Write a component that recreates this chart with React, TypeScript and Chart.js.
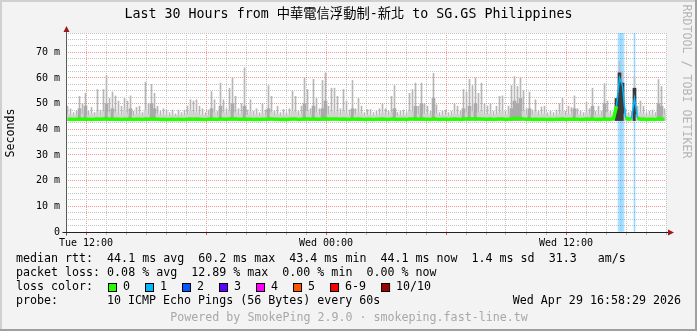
import React, { useEffect, useRef } from 'react';
import { Chart, registerables } from 'chart.js';

Chart.register(...registerables);

const TITLE = 'Last 30 Hours from 中華電信浮動制-新北 to SG.GS Philippines';
const HOURS = 30;
const BIN_HOURS = 0.15;
const Y_MAX = 77.5;
const SMOKE_FLOOR = 43.4;

const xTickHours = [1, 13, 25];
const xTickLabels = ['Tue 12:00', 'Wed 00:00', 'Wed 12:00'];

// highest ping of each 9-minute bin (ms)
const smokeMax = [
  49, 48, 46.5, 47, 52.8, 50, 54, 47, 48.5, 46.5,
  55.5, 47.5, 55.5, 61, 52, 54.5, 53, 51, 49, 52,
  51, 53, 47, 48.5, 49, 46.5, 58.3, 50, 57.5, 54,
  49, 47, 48, 47.5, 46.5, 47.5, 46, 47.5, 46.5, 47.5,
  49, 51.5, 51, 51.5, 49, 48, 46.5, 47.5, 54.7, 51.5,
  47, 58, 51.5, 48, 56, 60, 52.8, 48, 50, 64,
  47.5, 51.5, 47, 48, 46.5, 50, 47.5, 57, 52.8, 47,
  49, 46.5, 47.7, 46.5, 48, 54.8, 52.8, 47, 49, 60,
  55.5, 48, 59.5, 52, 48, 59, 62, 49, 56, 56,
  52.8, 48, 55.5, 51, 47.5, 59, 48, 52, 49, 46.5,
  47.7, 47.7, 46.5, 47, 48, 50, 48, 47, 52.8, 57,
  46.5, 47, 47.5, 46.5, 54, 55.5, 58, 49, 58, 50,
  49, 47, 61.8, 49.5, 46.5, 47, 47.5, 46.5, 47, 50,
  49, 47, 55.5, 54.5, 59.5, 57, 60, 54, 58, 50,
  49, 50, 47, 49, 52.8, 53, 47, 49, 57, 60.5,
  56.7, 60, 55, 48, 54.5, 47.5, 51.5, 47, 48.7, 49,
  46.5, 47, 46.5, 47.5, 50, 52, 47, 49, 48.5, 53,
  48, 47, 46.5, 50.5, 48, 56, 47, 49, 47, 57.8,
  51, 47, 46.5, 50, 66.5, 62, 48, 46.5, 47, 60.6,
  49, 51, 49, 46.5, 47, 47.5, 46.5, 59.4, 56.7, 48,
];

// upper edge of the dense part of the smoke
const smokeMid = [
  45.8, 45.5, 45.2, 45.5, 48, 46, 49, 45.3, 46, 45.2,
  46.5, 45.4, 46.8, 50, 46.5, 48, 46.5, 46, 45.5, 47.5,
  46, 48, 45.3, 45.8, 46, 45.2, 47.5, 45.8, 50, 48,
  46, 45.4, 45.6, 45.3, 45.2, 45.4, 45.2, 45.5, 45.2, 45.4,
  45.8, 47, 46.2, 46.5, 45.6, 45.5, 45.2, 45.4, 48, 46.5,
  45.4, 49, 46.5, 45.6, 47, 50, 46.5, 45.5, 46, 49,
  45.4, 46.5, 45.3, 45.6, 45.2, 46, 45.4, 48, 46.5, 45.3,
  45.8, 45.2, 45.5, 45.2, 45.6, 47, 46.5, 45.3, 45.8, 50,
  47, 45.6, 49, 46.5, 45.6, 48, 51, 45.8, 47, 46.5,
  46.5, 45.5, 47, 46, 45.4, 48, 45.6, 46.5, 45.8, 45.2,
  45.5, 45.5, 45.2, 45.4, 45.6, 46.2, 45.6, 45.4, 46.5, 48,
  45.2, 45.4, 45.4, 45.2, 47, 46.5, 49, 45.8, 50, 46,
  45.8, 45.4, 52, 46, 45.2, 45.4, 45.5, 45.2, 45.4, 46,
  45.8, 45.4, 48, 46.5, 49, 47, 50, 46.5, 47, 46,
  45.8, 46, 45.4, 45.8, 46.5, 47, 45.4, 45.8, 48, 51,
  50, 52, 47, 45.6, 48, 45.5, 46.5, 45.4, 45.8, 46,
  45.2, 45.4, 45.2, 45.5, 46, 47, 45.4, 45.8, 45.6, 48,
  45.6, 45.4, 45.2, 46.5, 45.6, 49, 45.4, 45.8, 45.4, 50,
  46.5, 45.4, 45.2, 52, 62, 58, 46, 45.2, 45.4, 56,
  45.8, 46.5, 45.8, 45.2, 45.4, 45.5, 45.2, 50, 49, 45.6,
];

// median rtt per bin (ms)
const median = [
  43.9, 43.9, 43.8, 43.9, 44.0, 43.9, 44.0, 43.9, 43.8, 43.9,
  44.0, 43.9, 44.0, 44.1, 43.9, 44.0, 43.9, 43.9, 43.8, 43.9,
  43.9, 44.0, 43.8, 43.9, 43.9, 43.8, 44.0, 43.9, 44.1, 44.0,
  43.9, 43.8, 43.9, 43.8, 43.8, 43.9, 43.8, 43.9, 43.8, 43.8,
  43.9, 44.0, 43.9, 44.0, 43.9, 43.8, 43.8, 43.9, 44.0, 43.9,
  43.8, 44.1, 43.9, 43.9, 44.0, 44.1, 44.0, 43.9, 43.9, 44.0,
  43.9, 43.9, 43.8, 43.9, 43.8, 43.9, 43.9, 44.0, 44.0, 43.9,
  43.9, 43.8, 43.9, 43.8, 43.9, 44.0, 44.0, 43.8, 43.9, 44.1,
  44.0, 43.9, 44.1, 43.9, 43.9, 44.0, 44.2, 43.9, 44.0, 44.0,
  44.0, 43.9, 44.0, 43.9, 43.8, 44.1, 43.9, 44.0, 43.9, 43.8,
  43.9, 43.9, 43.8, 43.9, 43.9, 44.0, 43.9, 43.8, 44.0, 44.0,
  43.8, 43.9, 43.9, 43.8, 44.0, 44.0, 44.1, 43.9, 44.1, 43.9,
  43.9, 43.8, 44.2, 43.9, 43.8, 43.9, 43.9, 43.8, 43.9, 44.0,
  43.9, 43.8, 44.0, 44.0, 44.1, 44.0, 44.1, 44.0, 44.0, 43.9,
  43.9, 44.0, 43.8, 43.9, 44.0, 44.0, 43.8, 43.9, 44.0, 44.1,
  44.1, 44.2, 44.0, 43.9, 44.0, 43.8, 43.9, 43.8, 43.9, 43.9,
  43.8, 43.9, 43.8, 43.9, 43.9, 44.0, 43.8, 43.9, 43.9, 44.0,
  43.9, 43.8, 43.8, 44.0, 43.9, 44.1, 43.8, 43.9, 43.8, 44.1,
  43.9, 43.9, 44.2, 49.0, 60.0, 57.0, 44.5, 43.9, 44.2, 52.0,
  44.3, 43.9, 44.0, 43.8, 43.9, 43.9, 43.8, 44.1, 44.0, 43.9,
];

// bins where packets were lost (1 of 10)
const lossWideBins = [184, 185];
const lossThinBins = [189];
const lossMedianBins = [184, 185, 189];
const darkSmokeBins = [183, 184, 185, 189];

const rttLine = 'median rtt:  44.1 ms avg  60.2 ms max  43.4 ms min  44.1 ms now  1.4 ms sd  31.3   am/s';
const lossLine = 'packet loss: 0.08 % avg  12.89 % max  0.00 % min  0.00 % now';
const lossColorLabels = ['0', '1', '2', '3', '4', '5', '6-9', '10/10'];
const lossColors = ['#26ff00', '#00b8ff', '#0059ff', '#5e00ff', '#ff00ff', '#ff5500', '#ff0000', '#a10000'];
const probeText = '10 ICMP Echo Pings (56 Bytes) every 60s';
const dateText = 'Wed Apr 29 16:58:29 2026';
const poweredText = 'Powered by SmokePing 2.9.0 · smokeping.fast-line.tw';

const MONO = '"DejaVu Sans Mono", "Noto Sans CJK TC", monospace';
const MAJOR = 'rgba(225,70,70,0.55)';
const MINOR = '#c4c4c4';

const binX = (i: number) => (i + 0.5) * BIN_HOURS;

const decor = {
  id: 'decor',
  beforeDraw(chart: any) {
    const { ctx, width, height, chartArea: a } = chart;
    ctx.save();
    ctx.fillStyle = '#f3f3f3';
    ctx.fillRect(0, 0, width, height);
    ctx.fillStyle = '#ffffff';
    ctx.fillRect(a.left, a.top, a.right - a.left, a.bottom - a.top);
    ctx.fillStyle = '#d0d0d0';
    ctx.fillRect(0, 0, width, 2);
    ctx.fillRect(0, 0, 2, height);
    ctx.fillStyle = '#a0a0a0';
    ctx.fillRect(0, height - 2, width, 2);
    ctx.fillRect(width - 2, 0, 2, height);
    ctx.restore();
  },
  afterDraw(chart: any) {
    const { ctx, chartArea: a } = chart;
    const xs = chart.scales.x;
    const ys = chart.scales.y;
    const x0 = Math.round(xs.getPixelForValue(0)) + 0.5;
    const y0 = Math.round(ys.getPixelForValue(0)) + 0.5;
    const top = a.top;
    const right = a.right;
    ctx.save();
    ctx.lineWidth = 1;
    ctx.strokeStyle = '#5a5a5a';
    ctx.beginPath();
    ctx.moveTo(x0, y0 + 3);
    ctx.lineTo(x0, top - 4);
    ctx.stroke();
    ctx.strokeStyle = '#222';
    ctx.beginPath();
    ctx.moveTo(x0 - 4, y0);
    ctx.lineTo(right + 3, y0);
    ctx.stroke();
    ctx.fillStyle = '#9a1b1b';
    ctx.beginPath();
    ctx.moveTo(x0, top - 7);
    ctx.lineTo(x0 - 3, top - 1);
    ctx.lineTo(x0 + 3, top - 1);
    ctx.closePath();
    ctx.fill();
    ctx.beginPath();
    ctx.moveTo(right + 8, y0);
    ctx.lineTo(right + 2, y0 - 3);
    ctx.lineTo(right + 2, y0 + 3);
    ctx.closePath();
    ctx.fill();

    ctx.fillStyle = '#000';
    ctx.textBaseline = 'middle';
    ctx.textAlign = 'center';
    ctx.font = `13.3px ${MONO}`;
    ctx.fillText(TITLE, 348.5, 15);

    ctx.font = `11.65px ${MONO}`;
    ctx.save();
    ctx.translate(11, 133);
    ctx.rotate(-Math.PI / 2);
    ctx.fillText('Seconds', 0, 0);
    ctx.restore();
    ctx.save();
    ctx.fillStyle = '#b4b4b4';
    ctx.translate(686, 81.5);
    ctx.rotate(Math.PI / 2);
    ctx.fillText('RRDTOOL / TOBI OETIKER', 0, 0);
    ctx.restore();

    ctx.textAlign = 'left';
    ctx.fillStyle = '#000';
    ctx.fillText(rttLine, 16, 259);
    ctx.fillText(lossLine, 16, 273);
    ctx.fillText('loss color:', 16, 287);
    let bx = 108;
    lossColorLabels.forEach((lab, k) => {
      ctx.fillStyle = lossColors[k];
      ctx.fillRect(bx, 283, 8, 8);
      ctx.strokeStyle = '#000';
      ctx.strokeRect(bx + 0.5, 283.5, 8, 8);
      ctx.fillStyle = '#000';
      ctx.fillText(lab, bx + 15, 287);
      bx += 15 + ctx.measureText(lab).width + 15;
    });
    ctx.fillText('probe:', 16, 301);
    ctx.fillText(probeText, 107, 301);
    ctx.textAlign = 'right';
    ctx.fillText(dateText, 681, 301);
    ctx.textAlign = 'center';
    ctx.fillStyle = '#a8a8a8';
    ctx.fillText(poweredText, 349, 318);
    ctx.restore();
  },
};

export default function App() {
  const ref = useRef<HTMLCanvasElement | null>(null);

  useEffect(() => {
    const canvas = ref.current;
    if (!canvas) return;
    const isLoss = (i: number) => lossMedianBins.includes(i);
    const chart = new Chart(canvas, {
      type: 'bar',
      data: {
        datasets: [
          {
            type: 'bar',
            label: 'loss',
            data: lossWideBins.map((b) => ({ x: binX(b), y: [0, Y_MAX] })) as any,
            backgroundColor: 'rgba(0,160,255,0.32)',
            grouped: false,
            barPercentage: 1,
            categoryPercentage: 1,
            order: 5,
          } as any,
          {
            type: 'bar',
            label: 'loss thin',
            data: lossThinBins.map((b) => ({ x: binX(b), y: [0, Y_MAX] })) as any,
            backgroundColor: 'rgba(0,160,255,0.4)',
            grouped: false,
            barThickness: 1,
            order: 5,
          } as any,
          {
            type: 'bar',
            label: 'smoke band',
            data: smokeMid.map((v, i) => ({ x: binX(i), y: [SMOKE_FLOOR, v] })) as any,
            backgroundColor: (c: any) => {
              if (darkSmokeBins.includes(c.dataIndex)) return '#3a3a3a';
              const v = smokeMid[c.dataIndex];
              return v >= 48 ? '#aaaaaa' : '#d2d2d2';
            },
            grouped: false,
            barPercentage: 1,
            categoryPercentage: 1,
            order: 2,
          } as any,
          {
            type: 'bar',
            label: 'smoke max',
            data: smokeMax.map((v, i) => ({ x: binX(i), y: [SMOKE_FLOOR, v] })) as any,
            backgroundColor: (c: any) => (darkSmokeBins.includes(c.dataIndex) ? '#c0c0c0' : '#b6b6b6'),
            grouped: false,
            barThickness: 1,
            order: 3,
          } as any,
          {
            type: 'line',
            label: 'median rtt',
            data: median.map((v, i) => ({ x: binX(i), y: v })) as any,
            borderColor: lossColors[0],
            borderWidth: 3.5,
            pointRadius: 0,
            tension: 0,
            segment: {
              borderColor: (c: any) => (isLoss(c.p1DataIndex) || isLoss(c.p0DataIndex) ? lossColors[1] : lossColors[0]),
              borderWidth: (c: any) => (isLoss(c.p1DataIndex) || isLoss(c.p0DataIndex) ? 1.5 : 3.5),
            },
            order: 1,
          } as any,
        ],
      },
      options: {
        responsive: false,
        devicePixelRatio: 1,
        animation: false,
        layout: { padding: { left: 0, right: 31, top: 33, bottom: 79 } },
        plugins: { legend: { display: false }, tooltip: { enabled: false }, title: { display: false } },
        scales: {
          x: {
            type: 'linear',
            min: 0,
            max: HOURS,
            offset: false,
            afterFit: (s: any) => { s.height = 20; },
            grid: {
              offset: false,
              lineWidth: 1,
              color: (c: any) => {
                const v = c.tick?.value;
                if (v === 0) return 'rgba(0,0,0,0)';
                return (v - 1) % 6 === 0 ? MAJOR : MINOR;
              },
              tickLength: 3,
              tickColor: (c: any) => ((c.tick?.value - 1) % 6 === 0 ? '#d06060' : '#b8b8b8'),
            },
            border: { display: false, dash: [1, 1] },
            ticks: {
              stepSize: 1,
              autoSkip: false,
              maxRotation: 0,
              padding: 2,
              color: '#000',
              font: { family: 'DejaVu Sans Mono', size: 10 },
              callback: (v: any) => {
                const k = xTickHours.indexOf(Number(v));
                return k >= 0 ? xTickLabels[k] : '';
              },
            },
          },
          y: {
            type: 'linear',
            min: 0,
            max: Y_MAX,
            afterFit: (s: any) => { s.width = 66; },
            grid: {
              lineWidth: 1,
              color: (c: any) => {
                const v = c.tick?.value;
                if (v === 0) return 'rgba(0,0,0,0)';
                return v % 10 === 0 ? MAJOR : MINOR;
              },
              tickLength: 3,
              tickColor: 'rgba(0,0,0,0)',
            },
            border: { display: false, dash: [1, 1] },
            ticks: {
              stepSize: 2.5,
              autoSkip: false,
              padding: 3,
              color: '#000',
              font: { family: 'DejaVu Sans Mono', size: 10 },
              callback: (v: any) => {
                const n = Number(v);
                if (n % 10 !== 0) return '';
                return n === 0 ? '0' : `${n} m`;
              },
            },
          },
        },
      } as any,
      plugins: [decor],
    });
    return () => chart.destroy();
  }, []);

  return (
    <div style={{ position: 'fixed', left: 0, top: 0, width: 697, height: 331 }}>
      <canvas ref={ref} width={697} height={331} style={{ display: 'block', width: 697, height: 331 }} />
    </div>
  );
}
